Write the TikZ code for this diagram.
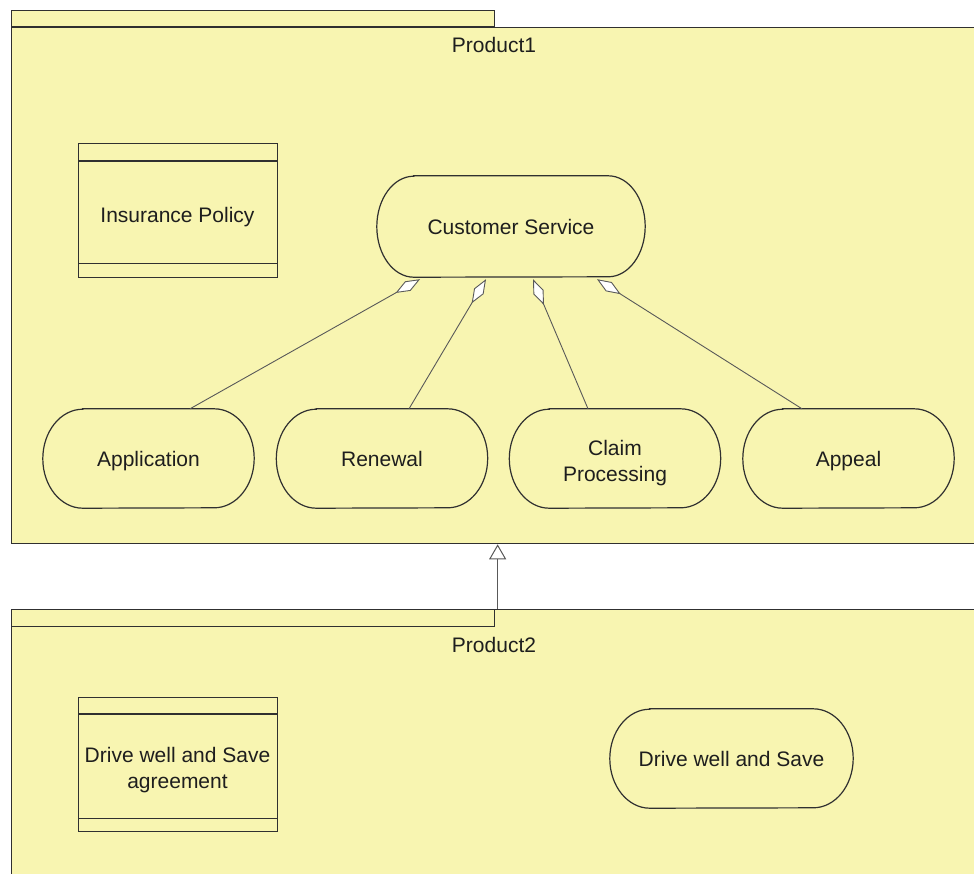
\documentclass[tikz,border=0pt]{standalone}
\usepackage{fontspec}
\setmainfont{Liberation Sans}
\usetikzlibrary{arrows.meta,calc}
\definecolor{pkgfill}{HTML}{F8F5B1}
\definecolor{edge}{HTML}{303030}
\definecolor{txt}{HTML}{1E1E1E}
\newcommand\ucoutline[3]{%
  \draw[ucline] ($(#1.north west)+(#2,0)$) -- ($(#1.north east)+(-#2,0)$)
    arc[start angle=-90, end angle=90, x radius=#2, y radius=#3]
    -- ($(#1.south west)+(#2,0)$)
    arc[start angle=90, end angle=270, x radius=#2, y radius=#3] -- cycle;}
\begin{document}
\begin{tikzpicture}[x=1pt,y=-1pt,
  every node/.style={font=\fontsize{21}{26}\selectfont, text=txt},
  pkg/.style={draw=edge, line width=1.3pt, fill=pkgfill, inner sep=0pt},
  cls/.style={draw=edge, line width=1.4pt, fill=pkgfill, inner sep=0pt},
  clsline/.style={draw=edge, line width=1.4pt},
  uc/.style={inner sep=0pt, minimum width=211, minimum height=99, align=center,
    text height=17pt, text depth=2pt},
  ucline/.style={draw=edge, line width=1.2pt},
  agg/.style={draw=black!65, line width=0.9pt, -{Diamond[fill=white, length=28pt, width=11pt]}},
  gen/.style={draw=black!65, line width=1pt, -{Triangle[fill=white, length=15pt, width=17pt]}},
  lbl/.style={inner sep=0pt, align=center},
  onelbl/.style={inner sep=0pt, text height=17pt, text depth=2pt}]
\useasboundingbox (0,0) rectangle (974,873);
\clip (0,0) rectangle (974,873);
\fill[white] (0,0) rectangle (974,873);
% Product1 package
\node[pkg, anchor=north west, minimum width=972, minimum height=516] (p1) at (11,27) {};
\node[pkg, anchor=south west, minimum width=483, minimum height=16] (p1tab) at (11,27) {};
\node[onelbl] (p1lbl) at (494,45) {Product1};
% Product2 package
\node[pkg, anchor=north west, minimum width=972, minimum height=300] (p2) at (11,609) {};
\node[pkg, anchor=north west, minimum width=483, minimum height=17] (p2tab) at (11,609) {};
\node[onelbl] (p2lbl) at (494,645) {Product2};
% classes
\node[cls, anchor=north west, minimum width=199, minimum height=134] (ip) at (78,143) {};
\draw[clsline] ($(ip.north west)+(0,18)$) -- ($(ip.north east)+(0,18)$);
\draw[clsline] ($(ip.south west)+(0,-15)$) -- ($(ip.south east)+(0,-15)$);
\node[onelbl] (iplbl) at (177.5,214.5) {Insurance Policy};
\node[cls, anchor=north west, minimum width=199, minimum height=134] (dwa) at (78,697) {};
\draw[clsline] ($(dwa.north west)+(0,17)$) -- ($(dwa.north east)+(0,17)$);
\draw[clsline] ($(dwa.south west)+(0,-14)$) -- ($(dwa.south east)+(0,-14)$);
\node[lbl] (dwalbl) at (177.5,770) {Drive well and Save\\agreement};
% use cases
\node[uc, minimum width=268, minimum height=101] (cs) at (511,226.5) {Customer Service};
\ucoutline{cs}{37}{50.5}
\node[uc] (app) at (148.5,458.5) {Application};
\ucoutline{app}{40}{49.5}
\node[uc] (ren) at (382,458.5) {Renewal};
\ucoutline{ren}{40}{49.5}
\node[uc] (clm) at (615,458.5) {};
\ucoutline{clm}{40}{49.5}
\node[lbl] (clmlbl) at (615,463.5) {Claim\\Processing};
\node[uc] (apl) at (848.5,458.5) {Appeal};
\ucoutline{apl}{40}{49.5}
\node[uc, minimum width=243] (dws) at (731.5,758.5) {Drive well and Save};
\ucoutline{dws}{40}{49.5}
% aggregations
\draw[agg] ($(app.north)+(41.5,0)$) -- ($(cs.south)+(-91,2)$);
\draw[agg] ($(ren.north)+(27,0)$) -- ($(cs.south)+(-25,2)$);
\draw[agg] ($(clm.north)+(-27,0)$) -- ($(cs.south)+(22,2)$);
\draw[agg] ($(apl.north)+(-46.5,0)$) -- ($(cs.south)+(86,2)$);
% generalization
\draw[gen] (p2.north) -- (p1.south);
\end{tikzpicture}
\end{document}
